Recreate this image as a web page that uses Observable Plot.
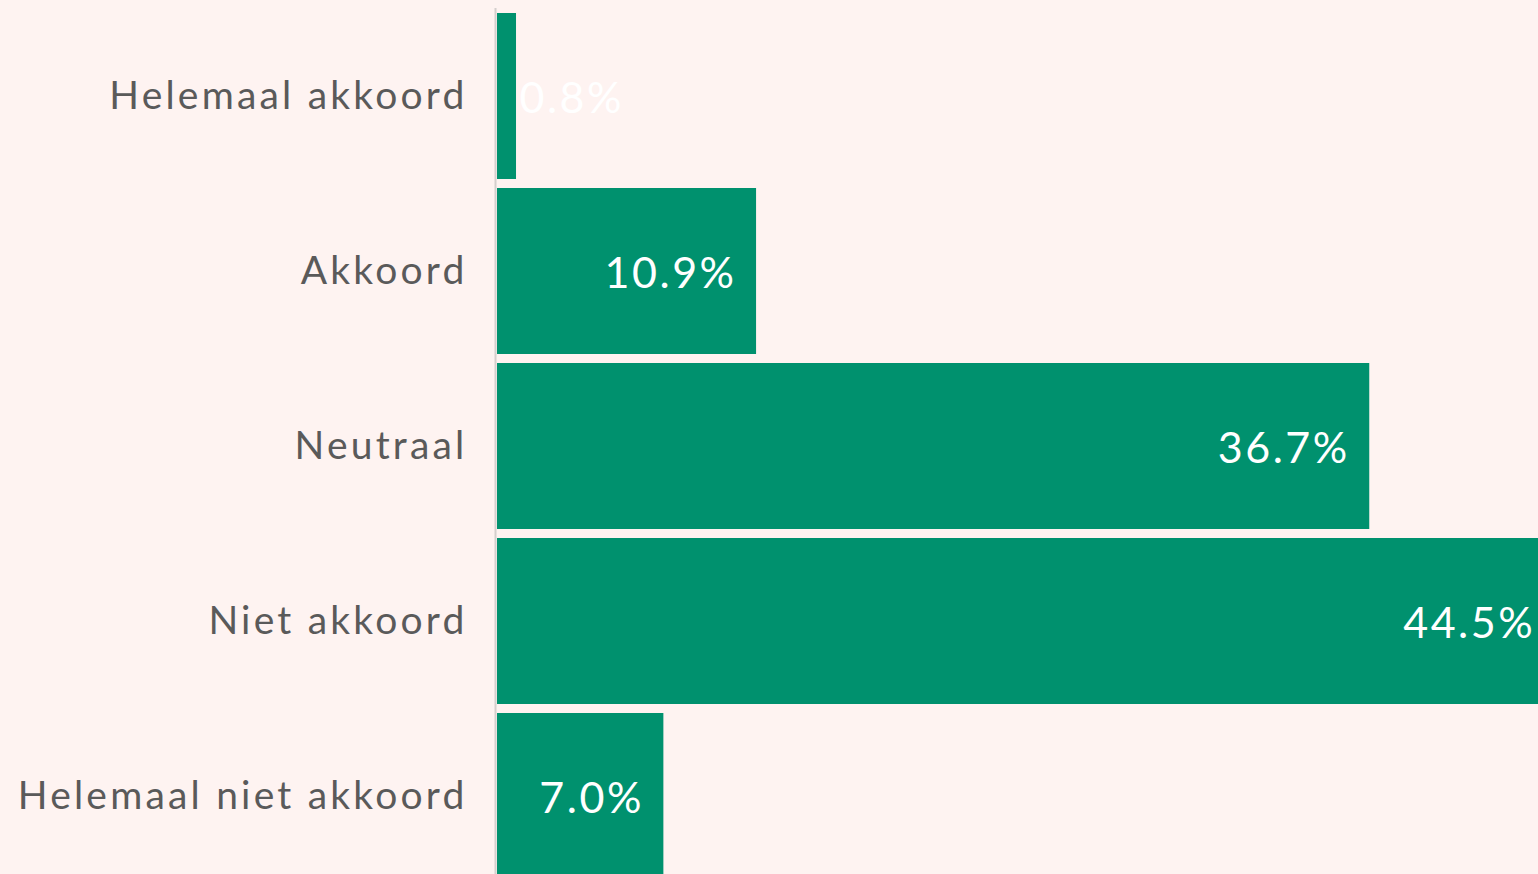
<!DOCTYPE html>
<html>
<head>
<meta charset="utf-8">
<script src="https://cdn.jsdelivr.net/npm/d3@7"></script>
<script src="https://cdn.jsdelivr.net/npm/@observablehq/plot@0.6"></script>
<style>
  html, body { margin: 0; padding: 0; background: #fef3f1; overflow: hidden; }
  #chart svg { display: block; }
  #chart g[aria-label="y-axis tick label"] text { letter-spacing: 3.2px; }
  #chart g[aria-label="text"] text { letter-spacing: 2.5px; }
</style>
</head>
<body>
<div id="chart"></div>
<script>
const categories = ["Helemaal akkoord", "Akkoord", "Neutraal", "Niet akkoord", "Helemaal niet akkoord"];
const values = [0.8, 10.9, 36.7, 44.5, 7.0];
const valueLabels = ["0.8%", "10.9%", "36.7%", "44.5%", "7.0%"];

const data = categories.map((c, i) => ({category: c, value: values[i], label: valueLabels[i]}));

const font = "Lato, 'Noto Sans', sans-serif";

const chart = Plot.plot({
  width: 1538,
  height: 884,
  marginLeft: 497,
  marginRight: 0,
  marginTop: 8,
  marginBottom: 0,
  style: {background: "#fef3f1", fontFamily: font, overflow: "visible"},
  x: {domain: [0, 43.8], axis: null},
  y: {domain: categories, paddingInner: 0.05, paddingOuter: 0.025, label: null},
  marks: [
    Plot.barX(data, {y: "category", x: "value", fill: "#00916e", clip: true}),
    Plot.ruleX([0], {dx: -2, stroke: "#d4cfcd", strokeWidth: 2}),
    Plot.axisY({tickSize: 0, tickPadding: 30, fontSize: 39, fill: "#5a5a5a", label: null,
                fontFamily: font}),
    Plot.text(data.filter(d => d.value >= 3), {y: "category", x: "value", text: "label",
      textAnchor: "end", dx: -20, dy: 3, fill: "white", fontSize: 43, fontFamily: font}),
    Plot.text(data.filter(d => d.value < 3), {y: "category", x: "value", text: "label",
      textAnchor: "start", dx: 3, dy: 3, fill: "white", fontSize: 43, fontFamily: font})
  ]
});
document.getElementById("chart").appendChild(chart);
</script>
</body>
</html>
